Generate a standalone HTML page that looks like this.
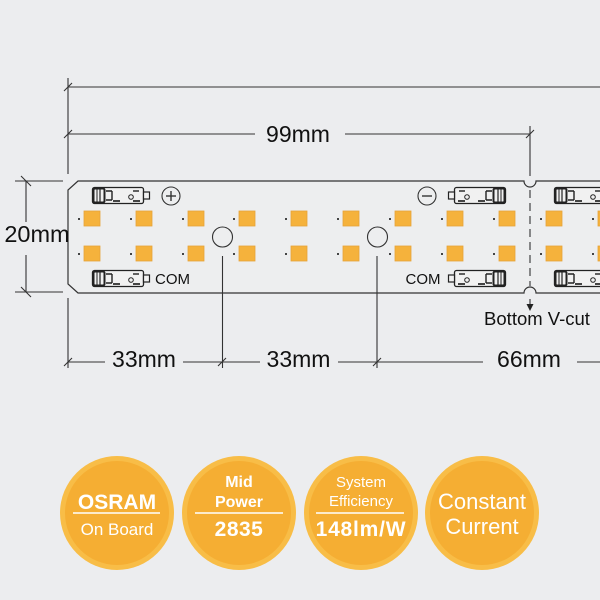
<!DOCTYPE html>
<html><head><meta charset="utf-8"><style>
html,body{margin:0;padding:0;background:#ecedef;}
svg{display:block;}
text{font-family:"Liberation Sans",Arial,sans-serif;}
</style></head><body>
<svg width="600" height="600" viewBox="0 0 600 600" xmlns="http://www.w3.org/2000/svg">
<defs>
<g id="conn">
  <rect x="6.5" y="0.5" width="51" height="16" rx="2" fill="#f1f1f1" stroke="#222" stroke-width="1.3"/>
  <rect x="0.5" y="5" width="6" height="7" fill="#f1f1f1" stroke="#222" stroke-width="1.2"/>
  <circle cx="19" cy="10" r="2.3" fill="none" stroke="#222" stroke-width="1"/>
  <line x1="11" y1="4" x2="17" y2="4" stroke="#222" stroke-width="1.4"/>
  <rect x="10" y="13" width="7" height="2" fill="#444"/>
  <rect x="30" y="13" width="7" height="2" fill="#444"/>
  <path d="M38 4 H44 M38 4 V13 M38 13 H44" fill="none" stroke="#222" stroke-width="1.4"/>
  <rect x="45.5" y="1.5" width="11" height="14" rx="1.5" fill="none" stroke="#222" stroke-width="2"/>
  <line x1="50" y1="1.5" x2="50" y2="15.5" stroke="#222" stroke-width="1.2"/>
  <line x1="53" y1="1.5" x2="53" y2="15.5" stroke="#222" stroke-width="1"/>
</g>
<g id="led">
  <rect x="0" y="0" width="16" height="15" fill="#f5b23c" stroke="#e6a23a" stroke-width="0.8"/>
</g>
</defs>

<g stroke="#333" stroke-width="1.1" fill="none">
  <line x1="68" y1="87" x2="600" y2="87"/>
  <line x1="64" y1="91" x2="72" y2="83"/>
  <line x1="68" y1="78" x2="68" y2="174"/>
  <line x1="68" y1="134" x2="255" y2="134"/>
  <line x1="345" y1="134" x2="530" y2="134"/>
  <line x1="64" y1="138" x2="72" y2="130"/>
  <line x1="526" y1="138" x2="534" y2="130"/>
  <line x1="530" y1="126" x2="530" y2="176"/>
  <path d="M600 181 H536 A6 6 0 0 1 524 181 H78 L68 190 V284 L78 293 H524 A6 6 0 0 1 536 293 H600" fill="#edeeef" stroke="#333" stroke-width="1.2"/>
  <line x1="530" y1="190" x2="530" y2="286" stroke-dasharray="8 5"/>
  <line x1="530" y1="299" x2="530" y2="306"/>
  <line x1="15" y1="181" x2="63" y2="181"/>
  <line x1="15" y1="292" x2="63" y2="292"/>
  <line x1="26" y1="181" x2="26" y2="222"/>
  <line x1="26" y1="255" x2="26" y2="292"/>
  <line x1="21" y1="176" x2="31" y2="186"/>
  <line x1="21" y1="287" x2="31" y2="297"/>
  <line x1="68" y1="298" x2="68" y2="368"/>
  <line x1="222.5" y1="256" x2="222.5" y2="368"/>
  <line x1="377" y1="256" x2="377" y2="368"/>
  <line x1="68" y1="362" x2="105" y2="362"/>
  <line x1="183" y1="362" x2="260" y2="362"/>
  <line x1="338" y1="362" x2="483" y2="362"/>
  <line x1="577" y1="362" x2="600" y2="362"/>
  <line x1="64" y1="366" x2="72" y2="358"/>
  <line x1="218" y1="366" x2="226" y2="358"/>
  <line x1="373" y1="366" x2="381" y2="358"/>
  <circle cx="222.5" cy="237" r="10"/>
  <circle cx="377.5" cy="237" r="10"/>
  <circle cx="171" cy="196" r="9"/>
  <line x1="166" y1="196" x2="176" y2="196" stroke-width="1.4"/>
  <line x1="171" y1="191" x2="171" y2="201" stroke-width="1.4"/>
  <circle cx="427" cy="196" r="9"/>
  <line x1="422" y1="196" x2="432" y2="196" stroke-width="1.4"/>
</g>
<polygon points="526.5,304 533.5,304 530,311" fill="#222"/>

<g>
  <use href="#led" x="84" y="211"/><use href="#led" x="136" y="211"/><use href="#led" x="188" y="211"/>
  <use href="#led" x="239" y="211"/><use href="#led" x="291" y="211"/><use href="#led" x="343" y="211"/>
  <use href="#led" x="395" y="211"/><use href="#led" x="447" y="211"/><use href="#led" x="499" y="211"/>
  <use href="#led" x="546" y="211"/><use href="#led" x="598" y="211"/>
  <use href="#led" x="84" y="246"/><use href="#led" x="136" y="246"/><use href="#led" x="188" y="246"/>
  <use href="#led" x="239" y="246"/><use href="#led" x="291" y="246"/><use href="#led" x="343" y="246"/>
  <use href="#led" x="395" y="246"/><use href="#led" x="447" y="246"/><use href="#led" x="499" y="246"/>
  <use href="#led" x="546" y="246"/><use href="#led" x="598" y="246"/>
</g>
<g fill="#444">
  <rect x="78" y="218" width="2" height="2"/><rect x="130" y="218" width="2" height="2"/><rect x="182" y="218" width="2" height="2"/>
  <rect x="233" y="218" width="2" height="2"/><rect x="285" y="218" width="2" height="2"/><rect x="337" y="218" width="2" height="2"/>
  <rect x="389" y="218" width="2" height="2"/><rect x="441" y="218" width="2" height="2"/><rect x="493" y="218" width="2" height="2"/>
  <rect x="540" y="218" width="2" height="2"/><rect x="592" y="218" width="2" height="2"/>
  <rect x="78" y="253" width="2" height="2"/><rect x="130" y="253" width="2" height="2"/><rect x="182" y="253" width="2" height="2"/>
  <rect x="233" y="253" width="2" height="2"/><rect x="285" y="253" width="2" height="2"/><rect x="337" y="253" width="2" height="2"/>
  <rect x="389" y="253" width="2" height="2"/><rect x="441" y="253" width="2" height="2"/><rect x="493" y="253" width="2" height="2"/>
  <rect x="540" y="253" width="2" height="2"/><rect x="592" y="253" width="2" height="2"/>
</g>

<use href="#conn" transform="translate(150,187) scale(-1,1)"/>
<use href="#conn" transform="translate(150,270) scale(-1,1)"/>
<use href="#conn" x="448" y="187"/>
<use href="#conn" x="448" y="270"/>
<use href="#conn" transform="translate(612,187) scale(-1,1)"/>
<use href="#conn" transform="translate(612,270) scale(-1,1)"/>

<g fill="#111">
  <text x="298" y="142" font-size="23" text-anchor="middle">99mm</text>
  <text x="37" y="242" font-size="23.5" text-anchor="middle">20mm</text>
  <text x="144" y="367" font-size="23" text-anchor="middle">33mm</text>
  <text x="298.5" y="367" font-size="23" text-anchor="middle">33mm</text>
  <text x="529" y="367" font-size="23" text-anchor="middle">66mm</text>
  <text x="155" y="284" font-size="15">COM</text>
  <text x="423" y="284" font-size="15" text-anchor="middle">COM</text>
  <text x="537" y="325" font-size="18.5" text-anchor="middle">Bottom V-cut</text>
</g>

<g>
  <circle cx="117" cy="513" r="57" fill="#f8bd47"/><circle cx="117" cy="513" r="52" fill="#f5ae33"/>
  <circle cx="239" cy="513" r="57" fill="#f8bd47"/><circle cx="239" cy="513" r="52" fill="#f5ae33"/>
  <circle cx="361" cy="513" r="57" fill="#f8bd47"/><circle cx="361" cy="513" r="52" fill="#f5ae33"/>
  <circle cx="482" cy="513" r="57" fill="#f8bd47"/><circle cx="482" cy="513" r="52" fill="#f5ae33"/>
</g>
<g stroke="#fff" stroke-width="1.5">
  <line x1="73" y1="513" x2="160" y2="513"/>
  <line x1="195" y1="513" x2="283" y2="513"/>
  <line x1="316" y1="513" x2="404" y2="513"/>
</g>
<g fill="#fff" text-anchor="middle">
  <text x="117" y="509" font-size="21" font-weight="bold">OSRAM</text>
  <text x="117" y="535" font-size="17">On Board</text>
  <text x="239" y="487" font-size="16" font-weight="bold">Mid</text>
  <text x="239" y="507" font-size="16" font-weight="bold">Power</text>
  <text x="239" y="536" font-size="21" font-weight="bold" letter-spacing="0.5">2835</text>
  <text x="361" y="487" font-size="15">System</text>
  <text x="361" y="506" font-size="15">Efficiency</text>
  <text x="361" y="536" font-size="21" font-weight="bold" letter-spacing="0.8">148lm/W</text>
  <text x="482" y="509" font-size="22">Constant</text>
  <text x="482" y="534" font-size="22">Current</text>
</g>
</svg>
</body></html>
